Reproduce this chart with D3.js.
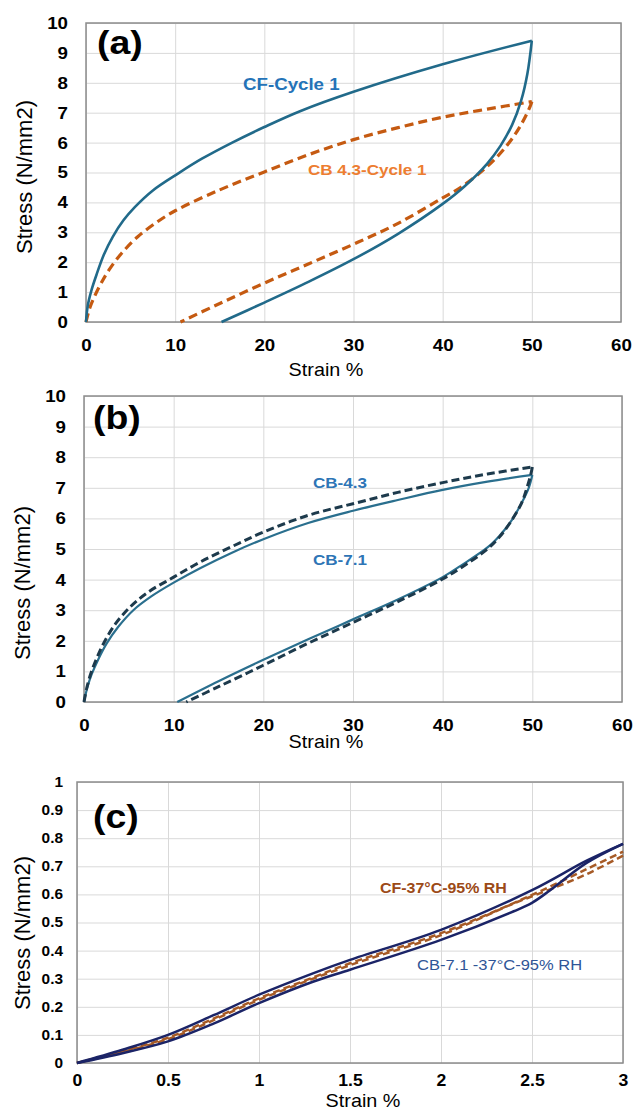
<!DOCTYPE html>
<html>
<head>
<meta charset="utf-8">
<script src="https://cdn.jsdelivr.net/npm/d3@7"></script>
<style>
  body { margin: 0; background: #fff; }
  svg { display: block; font-family: Arial, "Liberation Sans", sans-serif; }
</style>
</head>
<body>
<div id="d3-container"></div>
<script>
/**
 * CONSTANTS AND GLOBALS
 * */
const width = 635,
  height = 1112,
  sx = 1.1; // glyphs in the figure are a little wide

/**
 * DATA
 * */
// (a)
const strainCFLoad = [0, 0.2, 0.6, 1.2, 2, 3, 4.2, 5.5, 7.5, 10.4, 13, 16.4, 20, 24, 30, 40, 50];
const stressCFLoad = [0, 0.55, 1.05, 1.6, 2.25, 2.85, 3.4, 3.85, 4.4, 4.98, 5.46, 6.0, 6.52, 7.05, 7.7, 8.62, 9.41];
const strainCFUnload = [50, 49.5, 48.8, 47.8, 46.5, 45, 42.5, 40, 35, 30, 25, 20, 15.2];
const stressCFUnload = [9.41, 8.3, 7.4, 6.6, 5.9, 5.3, 4.55, 3.95, 2.95, 2.1, 1.35, 0.65, 0];
const strainCB43Load = [0, 0.4, 0.95, 1.7, 2.6, 4, 5.8, 8, 10, 15, 20, 25, 30, 35, 40, 45, 50];
const stressCB43Load = [0, 0.45, 0.85, 1.3, 1.75, 2.3, 2.85, 3.35, 3.72, 4.42, 5.02, 5.6, 6.1, 6.5, 6.85, 7.12, 7.37];
const strainCB43Unload = [50, 49.8, 48.7, 47.2, 45, 42, 40, 35, 30, 25, 20, 15, 10.6];
const stressCB43Unload = [7.37, 7.2, 6.55, 5.9, 5.2, 4.5, 4.15, 3.3, 2.6, 1.95, 1.3, 0.62, 0];

// (b)
const strainB1Load = [0, 0.35, 0.85, 1.6, 2.5, 3.8, 5.5, 7.5, 10, 13, 16.5, 20, 25, 30, 35, 40, 45, 50];
const stressB1Load = [0, 0.45, 0.9, 1.4, 1.9, 2.45, 3.0, 3.45, 3.9, 4.38, 4.88, 5.32, 5.85, 6.25, 6.6, 6.93, 7.2, 7.42];
const strainB1Unload = [50, 49.6, 48.8, 47.5, 46.3, 45, 42, 40, 35, 30, 25, 20, 15, 10.4];
const stressB1Unload = [7.42, 7.0, 6.5, 5.85, 5.42, 5.05, 4.45, 4.08, 3.35, 2.7, 2.05, 1.38, 0.68, 0];
const strainB2Load = [0, 0.3, 0.75, 1.45, 2.3, 3.5, 5.2, 7.2, 10, 13, 16.5, 20, 25, 30, 35, 40, 45, 50];
const stressB2Load = [0, 0.45, 0.92, 1.45, 1.98, 2.55, 3.12, 3.6, 4.08, 4.58, 5.08, 5.55, 6.1, 6.48, 6.85, 7.17, 7.45, 7.68];
const strainB2Unload = [50, 49.8, 49.4, 48.8, 47.5, 46.3, 45, 42, 40, 35, 30, 25, 20, 15, 11.4];
const stressB2Unload = [7.68, 7.4, 7.0, 6.5, 5.85, 5.38, 5.0, 4.38, 4.02, 3.28, 2.6, 1.92, 1.2, 0.5, 0];

// (c)
const strainNavyUp = [0, 0.25, 0.5, 0.75, 1, 1.3, 1.5, 2, 2.5, 2.8, 3];
const stressNavyUp = [0, 0.047, 0.10, 0.17, 0.243, 0.32, 0.367, 0.474, 0.615, 0.72, 0.78];
const strainNavyLow = [0, 0.25, 0.5, 0.75, 1, 1.3, 1.5, 2, 2.4, 2.5, 2.6, 2.8, 3];
const stressNavyLow = [0, 0.035, 0.077, 0.14, 0.213, 0.29, 0.332, 0.438, 0.54, 0.57, 0.615, 0.712, 0.78];
const strainCFHumLoad = [0, 0.25, 0.5, 0.75, 1, 1.3, 1.5, 2, 2.5, 2.8, 3];
const stressCFHumLoad = [0, 0.042, 0.09, 0.158, 0.23, 0.305, 0.355, 0.462, 0.598, 0.69, 0.752];
const strainCFHumUnload = [3, 2.8, 2.6, 2.4, 2, 1.5, 1, 0.5, 0];
const stressCFHumUnload = [0.738, 0.672, 0.618, 0.568, 0.455, 0.348, 0.225, 0.085, 0];

// ticks
const xTicksAB = [0, 10, 20, 30, 40, 50, 60];
const yTicksAB = [0, 1, 2, 3, 4, 5, 6, 7, 8, 9, 10];
const xTicksC = [0, 0.5, 1, 1.5, 2, 2.5, 3];
const yTicksC = [0, 0.1, 0.2, 0.3, 0.4, 0.5, 0.6, 0.7, 0.8, 0.9, 1];

const pts = (xs, ys) => xs.map((x, i) => [x, ys[i]]);

let svg;

init();

function txt(g, x, y, s, size, weight, color, anchor) {
  return g.append("text")
    .attr("transform", `translate(${x},${y}) scale(${sx},1)`)
    .attr("text-anchor", anchor || "start")
    .style("font-size", size + "px")
    .style("font-weight", weight)
    .attr("fill", color)
    .text(s);
}

function panel(cfg) {
  const g = svg.append("g");
  const x = d3.scaleLinear().domain(cfg.xDomain).range([cfg.left, cfg.right]);
  const y = d3.scaleLinear().domain(cfg.yDomain).range([cfg.bottom, cfg.top]);
  const w = cfg.right - cfg.left, h = cfg.bottom - cfg.top;

  // grid
  g.append("g")
    .attr("transform", `translate(0,${cfg.bottom})`)
    .call(d3.axisBottom(x).tickValues(cfg.xTicks).tickSize(-h).tickFormat(""))
    .call(a => a.select(".domain").remove())
    .call(a => a.selectAll("line").attr("stroke", "#d9d9d9"));
  g.append("g")
    .attr("transform", `translate(${cfg.left},0)`)
    .call(d3.axisLeft(y).tickValues(cfg.yTicks).tickSize(-w).tickFormat(""))
    .call(a => a.select(".domain").remove())
    .call(a => a.selectAll("line").attr("stroke", "#d9d9d9"));

  g.append("rect")
    .attr("x", cfg.left).attr("y", cfg.top)
    .attr("width", w).attr("height", h)
    .attr("fill", "none").attr("stroke", "#8c8c8c").attr("stroke-width", 1.5);

  // tick labels
  g.append("g")
    .attr("transform", `translate(0,${cfg.bottom})`)
    .call(d3.axisBottom(x).tickValues(cfg.xTicks).tickSize(0).tickPadding(cfg.xPad).tickFormat(d => String(d)))
    .call(a => a.select(".domain").remove())
    .call(a => a.selectAll("text")
      .attr("transform", `scale(${sx},1)`)
      .attr("fill", "#000")
      .style("font-size", cfg.xTickSize + "px")
      .style("font-weight", "bold")
      .style("font-family", "Arial, 'Liberation Sans', sans-serif"));
  g.append("g")
    .attr("transform", `translate(${cfg.left},0)`)
    .call(d3.axisLeft(y).tickValues(cfg.yTicks).tickSize(0).tickPadding(0).tickFormat(d => String(+d.toFixed(1))))
    .call(a => a.select(".domain").remove())
    .call(a => a.selectAll("text")
      .attr("x", -cfg.yPad / sx)
      .attr("transform", `scale(${sx},1)`)
      .attr("fill", "#000")
      .style("font-size", cfg.yTickSize + "px")
      .style("font-weight", "bold")
      .style("font-family", "Arial, 'Liberation Sans', sans-serif"));

  // axis titles
  txt(g, cfg.xTitle[0], cfg.xTitle[1], "Strain %", 18, "normal", "#000", "middle");
  g.append("text")
    .attr("transform", `translate(${cfg.yTitle[0]},${cfg.yTitle[1]}) rotate(-90)`)
    .attr("text-anchor", "middle")
    .style("font-size", "22px")
    .attr("fill", "#000")
    .text("Stress (N/mm2)");

  // curves
  const line = d3.line()
    .x(d => x(d[0]))
    .y(d => y(d[1]))
    .curve(d3.curveCatmullRom.alpha(0.5));

  cfg.series.forEach(s => {
    g.append("path")
      .attr("d", line(s.data))
      .attr("fill", "none")
      .attr("stroke", s.color)
      .attr("stroke-width", s.width)
      .attr("stroke-dasharray", s.dash || null)
      .attr("stroke-linejoin", "round");
  });

  // panel letter and labels
  txt(g, cfg.letter[0], cfg.letter[1], cfg.letter[2], 34, "bold", "#000");
  cfg.labels.forEach(l => txt(g, l.x, l.y, l.text, l.size, l.weight, l.color));
}

function init() {
  svg = d3.select("#d3-container")
    .append("svg")
    .attr("width", width)
    .attr("height", height);

  panel({
    xDomain: [0, 60], yDomain: [0, 10],
    left: 86, right: 621, top: 23, bottom: 322,
    xTicks: xTicksAB, yTicks: yTicksAB,
    xPad: 17, yPad: 18, xTickSize: 17, yTickSize: 17,
    xTitle: [326, 376], yTitle: [32, 177],
    letter: [97, 54, "(a)"],
    series: [
      { data: pts(strainCB43Load, stressCB43Load), color: "#c55a11", width: 3.2, dash: "9,5" },
      { data: pts(strainCB43Unload, stressCB43Unload), color: "#c55a11", width: 3.2, dash: "9,5" },
      { data: pts(strainCFLoad, stressCFLoad), color: "#216a8a", width: 2.6 },
      { data: pts(strainCFUnload, stressCFUnload), color: "#216a8a", width: 2.6 }
    ],
    labels: [
      { x: 243, y: 90, text: "CF-Cycle 1", size: 17, weight: "bold", color: "#2473b8" },
      { x: 308, y: 175, text: "CB 4.3-Cycle 1", size: 15.5, weight: "bold", color: "#ed7d31" }
    ]
  });

  panel({
    xDomain: [0, 60], yDomain: [0, 10],
    left: 84, right: 622, top: 396, bottom: 702,
    xTicks: xTicksAB, yTicks: yTicksAB,
    xPad: 17, yPad: 18, xTickSize: 17, yTickSize: 17,
    xTitle: [326, 748], yTitle: [30, 583],
    letter: [93, 429, "(b)"],
    series: [
      { data: pts(strainB1Load, stressB1Load), color: "#2a6f8e", width: 2.2 },
      { data: pts(strainB1Unload, stressB1Unload), color: "#2a6f8e", width: 2.2 },
      { data: pts(strainB2Load, stressB2Load), color: "#1d3a4c", width: 3, dash: "8,4" },
      { data: pts(strainB2Unload, stressB2Unload), color: "#1d3a4c", width: 3, dash: "8,4" }
    ],
    labels: [
      { x: 313, y: 488, text: "CB-4.3", size: 15.5, weight: "bold", color: "#2e75b6" },
      { x: 313, y: 565, text: "CB-7.1", size: 15.5, weight: "bold", color: "#2e75b6" }
    ]
  });

  panel({
    xDomain: [0, 3], yDomain: [0, 1],
    left: 77, right: 623, top: 782, bottom: 1063,
    xTicks: xTicksC, yTicks: yTicksC,
    xPad: 12, yPad: 14, xTickSize: 16, yTickSize: 14,
    xTitle: [363, 1107], yTitle: [30, 933],
    letter: [93, 828, "(c)"],
    series: [
      { data: pts(strainCFHumLoad, stressCFHumLoad), color: "#a65a26", width: 2.5, dash: "7,4" },
      { data: pts(strainCFHumUnload, stressCFHumUnload), color: "#a65a26", width: 2.5, dash: "7,4" },
      { data: pts(strainNavyUp, stressNavyUp), color: "#1b2467", width: 2.5 },
      { data: pts(strainNavyLow, stressNavyLow), color: "#1b2467", width: 2.5 }
    ],
    labels: [
      { x: 380, y: 893, text: "CF-37°C-95% RH", size: 14.5, weight: "bold", color: "#9c4a17" },
      { x: 417, y: 970, text: "CB-7.1 -37°C-95% RH", size: 15, weight: "normal", color: "#2f5597" }
    ]
  });
}
</script>
</body>
</html>
